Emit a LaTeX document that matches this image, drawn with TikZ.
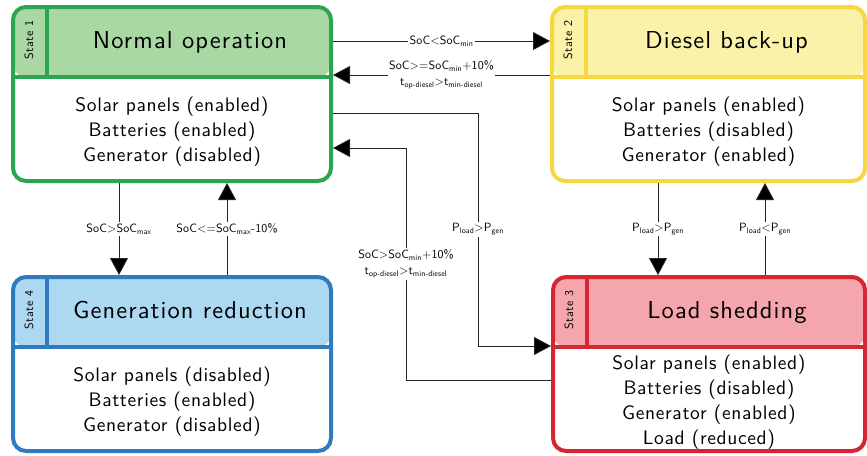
\documentclass[tikz,border=0pt]{standalone}
\usepackage{fontspec}
\newfontfamily\cadff{lmsans10-regular.otf}
\usetikzlibrary{arrows.meta,calc}
\definecolor{gB}{RGB}{44,165,80}\definecolor{gF}{RGB}{170,216,165}
\definecolor{yB}{RGB}{247,215,62}\definecolor{yF}{RGB}{249,242,168}
\definecolor{rB}{RGB}{214,38,52}\definecolor{rF}{RGB}{244,166,172}
\definecolor{bB}{RGB}{48,123,192}\definecolor{bF}{RGB}{173,216,242}
\newcommand\lo[1]{\textsubscript{#1}}
\newcommand\cadfont[2]{\cadff\addfontfeatures{LetterSpace=#2}\fontsize{#1}{#1}\selectfont}
\tikzset{
  statebox/.style 2 args={draw=#1, line width=4pt, rounded corners=13pt, fill=white,
    minimum height=174pt, inner sep=0pt,
    path picture={\fill[#2] ([yshift=4pt]path picture bounding box.north west) rectangle ([yshift=-70pt]path picture bounding box.north east);}},
  statelbl/.style={rotate=90, inner sep=0pt, font=\cadfont{12}{4}},
  titlelbl/.style={anchor=base, inner sep=0pt, font=\cadfont{24.5}{4.5}},
  bodylbl/.style={align=center, inner sep=0pt, font={\cadfont{19.5}{3.3}\baselineskip=25pt}},
  lbl/.style={fill=white, inner sep=1.5pt, text=black, align=center, font={\cadfont{12}{1}\baselineskip=16pt}},
  conn/.style={draw=black!85, line width=0.8pt, -{Triangle[length=17pt,width=18pt,fill=black]}},
}
\newcommand\mkstate[9]{%
  \node[statebox={#5}{#6}, minimum width=#4pt] (#1) at (#2,#3) {};
  \draw[#5, line width=4pt] ([yshift=-72pt]#1.north west) -- ([yshift=-72pt]#1.north east);
  \draw[#5, line width=4pt] ([xshift=36pt]#1.north west) -- ([xshift=36pt,yshift=-72pt]#1.north west);
  \node[statelbl] (#1-id) at ([xshift=18pt,yshift=-35pt]#1.north west) {#7};
  \node[titlelbl] (#1-title) at ([xshift=18pt,yshift=46pt]#1.center) {#8};
  \node[bodylbl] (#1-body) at ([yshift=-38pt]#1.center) {#9};
}
\begin{document}
\begin{tikzpicture}[x=1pt,y=-1pt]
\useasboundingbox (0,0) rectangle (867,455);
\mkstate{s1}{172}{94}{318}{gB}{gF}{State 1}{Normal operation}{Solar panels (enabled)\\Batteries (enabled)\\Generator (disabled)}
\mkstate{s2}{708.5}{94}{313}{yB}{yF}{State 2}{Diesel back-up}{Solar panels (enabled)\\Batteries (disabled)\\Generator (enabled)}
\mkstate{s3}{709}{364}{312}{rB}{rF}{State 3}{Load shedding}{Solar panels (enabled)\\Batteries (disabled)\\Generator (enabled)\\Load (reduced)}
\mkstate{s4}{172}{364}{318}{bB}{bF}{State 4}{Generation reduction}{Solar panels (disabled)\\Batteries (enabled)\\Generator (disabled)}
% level coordinates
\coordinate (y41) at (0,41);
\coordinate (y75) at (0,75);
\coordinate (y113) at (0,113);
\coordinate (y148) at (0,148);
\coordinate (y346) at (0,346);
\coordinate (y380) at (0,380);
\coordinate (x119) at (119,0);
\coordinate (x227) at (227,0);
\coordinate (x406) at (406,0);
\coordinate (x478) at (478,0);
\coordinate (x658) at (658,0);
\coordinate (x765) at (765,0);
% connectors
\draw[conn] (s1.east |- y41) -- node[lbl] (l1) {SoC<SoC\lo{min}} (s2.west |- y41);
\draw[conn] (s2.west |- y75) -- node[lbl] (l2) {SoC>=SoC\lo{min}+10\%\\t\lo{op-diesel}>t\lo{min-diesel}} (s1.east |- y75);
\draw[conn] (s1.east |- y113) -- (x478 |- y113) -- node[lbl] (l3) {P\lo{load}>P\lo{gen}} (x478 |- y346) -- (s3.west |- y346);
\draw[conn] (s3.west |- y380) -- (x406 |- y380) -- node[lbl] (l4) {SoC>SoC\lo{min}+10\%\\t\lo{op-diesel}>t\lo{min-diesel}} (x406 |- y148) -- (s1.east |- y148);
\draw[conn] (s1.south -| x119) -- node[lbl] (l5) {SoC>SoC\lo{max}} (s4.north -| x119);
\draw[conn] (s4.north -| x227) -- node[lbl] (l6) {SoC<=SoC\lo{max}-10\%} (s1.south -| x227);
\draw[conn] (s2.south -| x658) -- node[lbl] (l7) {P\lo{load}>P\lo{gen}} (s3.north -| x658);
\draw[conn] (s3.north -| x765) -- node[lbl] (l8) {P\lo{load}<P\lo{gen}} (s2.south -| x765);
\end{tikzpicture}
\end{document}
